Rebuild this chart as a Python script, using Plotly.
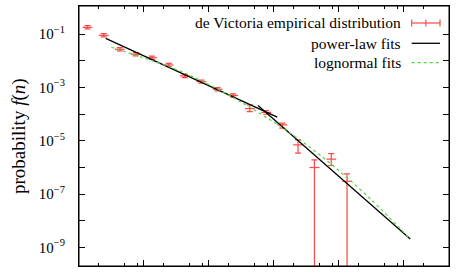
import plotly.graph_objects as go

# ---- empirical distribution (log-binned) ----
n_bins = [1.35, 2.40, 4.24, 7.48, 13.3, 24.1, 42.5, 76.9, 136, 236, 427, 766,
          1352, 2366, 4236, 7691, 13460]
f_emp = [0.178, 0.0894, 0.0267, 0.0174, 0.0129, 0.0069, 0.00267, 0.00163,
         8.49e-4, 4.98e-4, 1.59e-4, 1.15e-4, 3.91e-5, 6.97e-6, 9.84e-7,
         2.03e-6, 2.99e-7]
f_upper = [0.205, 0.103, 0.0307, 0.0200, 0.0148, 0.00794, 0.00307, 0.00187,
           9.76e-4, 5.73e-4, 2.19e-4, 1.35e-4, 4.52e-5, 1.07e-5, 1.9e-6,
           3.24e-6, 5.71e-7]
f_lower = [0.155, 0.0778, 0.0232, 0.0151, 0.0112, 0.0060, 0.00232, 0.00142,
           7.38e-4, 4.33e-4, 1.23e-4, 0.98e-4, 2.94e-5, 3.39e-6, 0.0,
           1.17e-6, 0.0]

# ---- power-law fits (two regimes) ----
pl1_n = [2.58, 1132]
pl1_f = [0.069, 7.59e-5]
pl2_n = [573, 126800]
pl2_f = [2.07e-4, 2.05e-9]

# ---- lognormal fit ----
ln_n = [3.157, 8.62, 29.83, 72.4, 209.9, 426.9, 1237, 5114, 30150, 126900]
ln_f = [0.0318, 0.01426, 0.00493, 0.001875, 4.89e-4, 1.80e-4, 3.52e-5,
        2.94e-6, 6.90e-8, 2.03e-9]

# ---- axes ----
y_tickvals = [1e-1, 1e-2, 1e-3, 1e-4, 1e-5, 1e-6, 1e-7, 1e-8, 1e-9]
y_ticktext = ["10<sup>−1</sup>", "", "10<sup>−3</sup>", "", "10<sup>−5</sup>", "",
              "10<sup>−7</sup>", "", "10<sup>−9</sup>"]
x_tickvals = [10, 100, 1e3, 1e4, 1e5]
x_minorvals = [m * 10 ** k for k in range(6) for m in (2, 5, 8)]

legend_labels = ["de Victoria empirical distribution", "power-law fits", "lognormal fits"]
y_title = "probability <i>f</i>(<i>n</i>)"

RED = "rgb(255,70,70)"
GREEN = "rgb(80,215,60)"
FONT = "Liberation Serif"

FLOOR = 1e-13
err_plus = [u - f for u, f in zip(f_upper, f_emp)]
err_minus = [f - max(l, FLOOR) for l, f in zip(f_lower, f_emp)]

fig = go.Figure()
fig.add_trace(go.Scatter(
    x=n_bins, y=f_emp, mode="markers", showlegend=False,
    marker=dict(symbol="line-ew", size=7, color=RED, line=dict(color=RED, width=1.2)),
    error_y=dict(type="data", symmetric=False, array=err_plus, arrayminus=err_minus,
                 color=RED, thickness=1.2, width=3),
))
for xs, ys in ((pl1_n, pl1_f), (pl2_n, pl2_f)):
    fig.add_trace(go.Scatter(x=xs, y=ys, mode="lines", showlegend=False,
                             line=dict(color="black", width=1.3)))
fig.add_trace(go.Scatter(x=ln_n, y=ln_f, mode="lines", showlegend=False,
                         line=dict(color=GREEN, width=1.2, dash="3px,3px", shape="spline")))

# manual legend (gnuplot style)
L, W, T, H = 79, 370, 6, 260
def px(x):
    return (x - L) / W
def py(y):
    return (T + H - y) / H

rows = [23, 43.3, 62.7]
annots = []
for lab, yy in zip(legend_labels, rows):
    annots.append(dict(x=px(403), y=py(yy), xref="paper", yref="paper", text=lab,
                       showarrow=False, xanchor="right", yanchor="middle",
                       font=dict(family=FONT, size=15.5, color="black")))
annots.append(dict(x=px(19), y=py(136), xref="paper", yref="paper", text=y_title,
                   showarrow=False, textangle=-90, xanchor="center", yanchor="middle",
                   font=dict(family=FONT, size=19, color="black")))
shapes = [dict(type="rect", xref="paper", yref="paper", x0=0, x1=1, y0=0, y1=1,
               line=dict(color="black", width=1), layer="above")]
x0, x1 = px(411.7), px(440)
xm = (x0 + x1) / 2
shapes.append(dict(type="line", xref="paper", yref="paper", x0=x0, x1=x1,
                   y0=py(rows[0]), y1=py(rows[0]), line=dict(color=RED, width=1.2)))
for xx in (x0, xm, x1):
    shapes.append(dict(type="line", xref="paper", yref="paper", x0=xx, x1=xx,
                       y0=py(rows[0] - 3.5), y1=py(rows[0] + 3.5),
                       line=dict(color=RED, width=1.2)))
shapes.append(dict(type="line", xref="paper", yref="paper", x0=x0, x1=x1,
                   y0=py(rows[1]), y1=py(rows[1]), line=dict(color="black", width=1.3)))
shapes.append(dict(type="line", xref="paper", yref="paper", x0=x0, x1=x1,
                   y0=py(rows[2]), y1=py(rows[2]),
                   line=dict(color=GREEN, width=1.2, dash="3px,3px")))

fig.update_layout(
    width=457, height=275,
    margin=dict(l=L, r=457 - L - W, t=T, b=275 - T - H, autoexpand=False),
    paper_bgcolor="white", plot_bgcolor="white",
    font=dict(family=FONT, color="black", size=14),
    annotations=annots, shapes=shapes,
)
fig.update_xaxes(type="log", range=[0, 5.70], showgrid=False, zeroline=False,
                 automargin=False,
                 showline=True, linecolor="black", linewidth=1, mirror="allticks",
                 ticks="inside", ticklen=6, tickcolor="black", tickwidth=1,
                 tickvals=x_tickvals, showticklabels=False,
                 minor=dict(tickvals=x_minorvals, ticks="inside", ticklen=3,
                            tickcolor="black", tickwidth=1, showgrid=False))
fig.update_yaxes(type="log", range=[-9.70, 0.05], showgrid=False, zeroline=False,
                 automargin=False,
                 showline=True, linecolor="black", linewidth=1, mirror="allticks",
                 ticks="inside", ticklen=6, tickcolor="black", tickwidth=1,
                 tickvals=y_tickvals, ticktext=y_ticktext, ticklabelstandoff=10,
                 tickfont=dict(family=FONT, size=15))

fig.write_html("out.html", config={"displayModeBar": False},
               post_script="document.body.style.margin='0';document.body.style.padding='0';")
